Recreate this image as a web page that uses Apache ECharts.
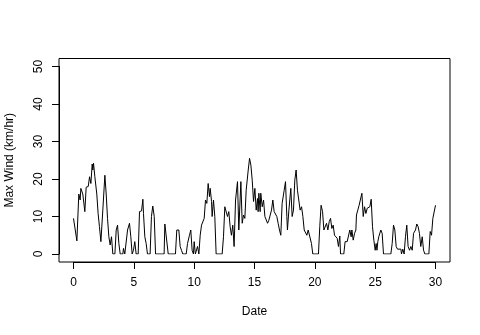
<!DOCTYPE html>
<html>
<head>
<meta charset="utf-8">
<script src="https://cdn.jsdelivr.net/npm/echarts@6/dist/echarts.min.js"></script>
<style>html,body{margin:0;padding:0;background:#fff}#c{width:480px;height:335px}</style>
</head>
<body>
<div id="c"></div>
<script>
const days = [0.0,0.28,0.44,0.55,0.61,0.77,0.94,1.05,1.22,1.33,1.44,1.55,1.60,1.66,1.77,1.93,2.04,2.15,2.27,2.43,2.60,2.71,2.82,2.93,3.04,3.15,3.26,3.43,3.54,3.65,3.76,3.87,4.09,4.14,4.25,4.36,4.48,4.64,4.75,4.86,4.97,5.08,5.19,
5.36,5.47,5.64,5.75,5.80,5.91,6.02,6.13,6.35,6.46,6.57,6.69,6.80,7.51,7.57,7.73,7.85,8.45,8.56,8.73,8.84,8.95,9.06,9.34,9.45,9.61,9.72,9.83,9.94,10.0,10.1,
10.22,10.28,10.39,10.50,10.61,10.72,10.83,10.94,11.05,11.16,11.27,11.33,11.44,11.49,11.60,11.71,11.82,12.32,12.43,12.54,12.65,12.76,12.87,12.98,13.09,13.20,13.31,13.43,13.59,13.70,13.87,13.98,14.09,14.20,14.31,14.48,14.59,14.70,14.81,14.92,15.03,15.14,15.25,
15.30,15.36,15.47,15.52,15.64,15.75,15.86,15.97,16.08,16.19,16.30,16.41,16.52,16.63,16.74,16.85,16.96,17.07,17.18,17.29,17.46,17.57,17.68,17.73,17.85,18.01,18.12,18.23,18.34,18.45,18.56,18.67,18.78,18.90,19.01,19.12,19.23,19.34,19.45,19.61,19.72,19.83,
20.30,20.41,20.52,20.64,20.75,20.86,20.97,21.08,21.19,21.30,21.41,21.52,21.63,21.74,21.85,21.96,22.07,22.13,22.40,22.51,22.68,22.79,22.90,23.01,23.07,23.18,23.29,23.40,23.45,23.56,23.67,23.78,23.90,24.01,24.12,24.23,24.34,24.45,24.56,24.67,24.78,24.89,25.0,25.08,25.15,25.22,25.30,25.47,25.58,25.69,
26.30,26.41,26.52,26.63,26.74,26.85,26.96,27.13,27.18,27.29,27.40,27.51,27.62,27.73,27.85,27.96,28.07,28.18,28.34,28.45,28.56,28.67,28.78,28.90,29.01,29.12,29.45,29.56,29.67,29.78,29.89,30.0];
const wind = [9.5,3.5,16,14.4,17.5,16,11.3,17.8,18,20.6,18.8,24,22.4,24.2,20.6,16,10.8,7.3,3.3,11.7,21,16,9.5,4.6,2.4,4.6,0,0,6.4,7.7,2.8,0,0,1.5,0,0,6.4,8.2,4.6,0,1,3.3,0,
0,11.3,11.5,14.6,10.8,4.6,2.8,0,0,10,12.8,10,0,0,8,8,0,0,6.4,6.4,2,1,0,0,2.8,5,6.4,1,0,3.3,0,
0,2,0,5,7.7,8,9.5,14.4,13.5,18.8,15.3,17.5,14,10,14.4,10,0,0,4.6,12.6,13,10,11.3,7.3,5,7.7,2,14.4,19.3,6.4,19.3,8.2,10.4,9.5,17,22.4,25.5,23.7,19.7,14,17.5,11.7,14.8,
11.3,16.2,11.3,16.2,12.6,14.4,10,9.5,8.2,9,9.5,11.7,14.4,11.3,11.3,10,8.2,6.4,5,13.5,17,19.3,10,6.4,11.7,17.5,10,11.7,19.7,22.4,17,17.5,11.7,12.6,10,6.4,6.4,5,6.4,6.4,2.8,0,
0,7.3,13,11.3,6.4,6.4,8.2,6.4,8.6,9.5,6.8,7.7,5,5,4.2,2,4.8,0,0,3.3,3.3,3.7,6.4,4.6,6.4,3.7,5.5,6.4,10.4,11.7,13,13.5,16.2,10,12.6,10.8,12.2,11.7,12.6,14.6,7.3,3.7,1,2.8,1,3.3,4.6,6.4,5.5,0,
0,2.8,7.7,6.4,2,1.3,1.3,1.3,0,1.3,0,4.6,7.7,2,1,2,1,5.5,6.4,8,7.3,5.5,2,4.6,1,0,0,6,5,9.5,10,13];
const xTitle = 'Date';
const yTitle = 'Max Wind (km/hr)';

const font = 'Liberation Sans, Arial, Helvetica, sans-serif';
const chart = echarts.init(document.getElementById('c'), null, {renderer: 'canvas'});
const axisCommon = {
  axisLine: {show: true, onZero: false, lineStyle: {color: '#000', width: 1}},
  axisTick: {show: true, length: 7, lineStyle: {color: '#000'}},
  splitLine: {show: false},
  axisLabel: {color: '#000', fontSize: 12, fontFamily: font},
  nameTextStyle: {color: '#000', fontSize: 12, fontFamily: font},
  nameMoveOverlap: false
};
chart.setOption({
  animation: false,
  backgroundColor: '#fff',
  grid: [
    {left: 59, right: 30, top: 58.5, bottom: 73, show: true, borderColor: '#000', borderWidth: 1, backgroundColor: 'transparent', outerBoundsMode: 'none', containLabel: false},
    {left: 73.5, right: 44.5, top: 66.5, bottom: 81, outerBoundsMode: 'none', containLabel: false}
  ],
  xAxis: [
    {gridIndex: 0, type: 'value', min: 0, max: 1, show: false},
    Object.assign({}, axisCommon, {gridIndex: 1, type: 'value', min: 0, max: 30, interval: 5, offset: 8,
      name: xTitle, nameLocation: 'middle', nameGap: 44,
      axisLabel: Object.assign({}, axisCommon.axisLabel, {margin: 15})})
  ],
  yAxis: [
    {gridIndex: 0, type: 'value', min: 0, max: 1, show: false},
    Object.assign({}, axisCommon, {gridIndex: 1, type: 'value', min: 0, max: 50, interval: 10, offset: 14.5,
      name: yTitle, nameLocation: 'middle', nameGap: 43,
      axisLabel: Object.assign({}, axisCommon.axisLabel, {margin: 14, rotate: 90})})
  ],
  series: [{
    type: 'line', xAxisIndex: 1, yAxisIndex: 1, showSymbol: false, symbol: 'none',
    lineStyle: {color: '#000', width: 1}, itemStyle: {color: '#000'},
    data: days.map((d, i) => [d, wind[i]])
  }]
});
</script>
</body>
</html>
